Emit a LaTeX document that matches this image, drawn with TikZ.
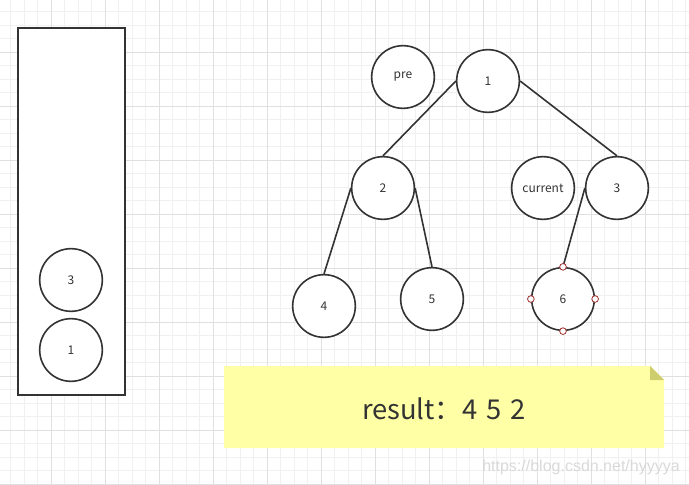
\documentclass[tikz,border=0pt]{standalone}
\usepackage{fontspec}
\setmainfont{Noto Sans CJK SC}
\newfontfamily\markfont{Liberation Sans}
\definecolor{inkgray}{HTML}{333333}
\definecolor{minorgrid}{HTML}{F0F0F0}
\definecolor{majorgrid}{HTML}{E0E0E0}
\definecolor{notefill}{HTML}{FFFFA6}
\definecolor{notefold}{HTML}{CDCD6E}
\definecolor{handlered}{HTML}{A03030}
\begin{document}
\begin{tikzpicture}[x=0.75pt, y=-0.75pt,
    treenode/.style={circle, draw=inkgray, line width=1.2pt, fill=white,
        minimum size=47pt, inner sep=0pt, font=\fontsize{9}{9}\selectfont, text=inkgray},
    treeedge/.style={draw=inkgray, line width=1.2pt},
    handle/.style={circle, draw=handlered, fill=white, line width=0.6pt,
        minimum size=5pt, inner sep=0pt}]
    \useasboundingbox (0, 0) rectangle (689, 485);
    \fill[white] (0, 0) rectangle (689, 485);

    % Grid
    \foreach \i in {0,...,52} {
        \draw[minorgrid, line width=0.75pt] ({-2.7 + 13.5*\i}, 0) -- ({-2.7 + 13.5*\i}, 485);
    }
    \foreach \i in {0,...,36} {
        \draw[minorgrid, line width=0.75pt] (0, {-1.7 + 13.5*\i}) -- (689, {-1.7 + 13.5*\i});
    }
    \foreach \i in {0,...,12} {
        \draw[majorgrid, line width=0.75pt] ({51.3 + 54*\i}, 0) -- ({51.3 + 54*\i}, 485);
    }
    \foreach \i in {0,...,8} {
        \draw[majorgrid, line width=0.75pt] (0, {52.3 + 54*\i}) -- (689, {52.3 + 54*\i});
    }

    % Stack
    \draw[inkgray, line width=1.4pt, fill=white] (18, 28) rectangle (125, 395);
    \node[treenode] (s3) at (71, 280) {3};
    \node[treenode] (s1) at (71, 350) {1};

    % Tree
    \node[treenode] (pre) at (403, 77) {pre};
    \node[treenode] (n1) at (488, 81) {1};
    \node[treenode] (n2) at (383, 188) {2};
    \node[treenode] (cur) at (543, 188) {current};
    \node[treenode] (n3) at (617, 188) {3};
    \node[treenode] (n4) at (324, 306) {4};
    \node[treenode] (n5) at (432, 299) {5};
    \node[treenode] (n6) at (563, 299) {6};

    \draw[treeedge] (n1.west) -- (n2.north);
    \draw[treeedge] (n1.east) -- (n3.north);
    \draw[treeedge] (n2.west) -- (n4.north);
    \draw[treeedge] (n2.east) -- (n5.north);
    \draw[treeedge] (n3.west) -- (n6.north);

    % Handles
    \foreach \a in {north, south, east, west} {
        \node[handle] at (n6.\a) {};
    }

    % Note
    \fill[notefill] (224, 366) -- (650, 366) -- (664, 380) -- (664, 448) -- (224, 448) -- cycle;
    \fill[notefold] (650, 366) -- (664, 380) -- (650, 380) -- cycle;
    \node[text=inkgray, font=\fontsize{20.5}{20.5}\selectfont] (result) at (444, 409) {result：4\,\,5\,\,2};

    % Watermark
    \node[text=black!15, font=\markfont\fontsize{12}{12}\selectfont] (mark) at (581, 467) {https://blog.csdn.net/hyyyya};
\end{tikzpicture}
\end{document}
